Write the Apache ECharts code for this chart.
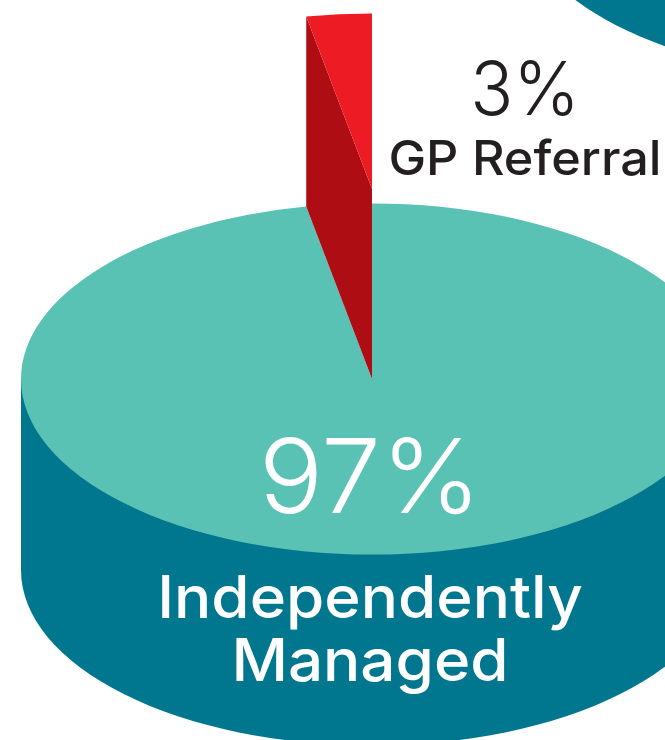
<!DOCTYPE html>
<html>
<head>
    <meta charset="utf-8">
    <title>referral share</title>
    <script src="https://cdn.jsdelivr.net/npm/echarts@6/dist/echarts.min.js"></script>
    <style>
        html, body { margin: 0; padding: 0; background: #fff; }
        #chart { width: 665px; height: 740px; }
    </style>
</head>
<body>
<div id="chart"></div>
<script>
    // data
    var categories = ['Independently Managed', 'GP Referral'];
    var shareValues = [97, 3];
    var topColors = ['#5AC2B5', '#ED1C24'];

    // disc geometry
    var cx = 372, cy = 379, rx = 351, ry = 175.5;
    var depth = 191;    // height of the cylinder wall
    var lift = 190;     // how far the small slice is pulled up
    var total = shareValues[0] + shareValues[1];
    var noon = -Math.PI / 2;

    function disc(start, end, y, color, z2) {
        return {
            type: 'sector',
            x: cx, y: y, scaleY: ry / rx,
            z2: z2,
            shape: { cx: 0, cy: 0, r0: 0, r: rx, startAngle: start, endAngle: end, clockwise: true },
            style: { fill: color }
        };
    }

    // slices run clockwise from 12 o'clock, the last one ends at 12 again
    function renderSlice(params, api) {
        var value = api.value(1);
        if (params.dataIndex === 0) {
            var sweep = value / total * Math.PI * 2;
            return {
                type: 'group',
                children: [
                    disc(0, Math.PI * 2, cy + depth, '#01778F', 1),
                    { type: 'rect', z2: 1, shape: { x: cx - rx, y: cy, width: rx * 2, height: depth }, style: { fill: '#01778F' } },
                    disc(noon, noon + sweep, cy, topColors[0], 2)
                ]
            };
        }
        // pulled out slice: inner wall first, then its top
        var a = noon - value / total * Math.PI * 2;
        var ex = cx + rx * Math.cos(a), ey = cy + ry * Math.sin(a);
        return {
            type: 'group',
            children: [
                { type: 'polygon', z2: 3, shape: { points: [[ex, ey - lift], [cx, cy - lift], [cx, cy], [ex, ey]] }, style: { fill: '#AD0D13' } },
                disc(a, noon, cy - lift, topColors[1], 4)
            ]
        };
    }

    // scale stretches the text a bit, the original face is wider than Inter
    function label(text, x, y, size, weight, color, scale) {
        return {
            type: 'text', x: x, y: y, z: 10, scaleX: scale,
            style: {
                text: text, fill: color, align: 'center', verticalAlign: 'middle',
                font: weight + ' ' + size + 'px Inter, "Noto Sans", sans-serif'
            }
        };
    }

    var chart = echarts.init(document.getElementById('chart'), null, { renderer: 'canvas' });
    chart.setOption({
        backgroundColor: '#ffffff',
        animation: false,
        graphic: [
            // the neighbouring pie, cut off by the top right corner
            { type: 'ellipse', z: 0, shape: { cx: 868, cy: -97, rx: rx, ry: ry }, style: { fill: '#01778F' } },
            label(shareValues[0] + '%', 370, 482, 103, 300, '#ffffff', 1.04),
            label('Independently', 370, 600, 59, 500, '#ffffff', 1.05),
            label('Managed', 370, 663, 59, 500, '#ffffff', 1.05),
            label(shareValues[1] + '%', 525, 93, 74, 300, '#231F20', 0.96),
            label(categories[1], 525, 161, 48, 500, '#231F20', 1.05)
        ],
        series: [{
            type: 'custom',
            coordinateSystem: 'none',
            clip: false,
            renderItem: renderSlice,
            data: categories.map(function (name, i) {
                return { name: name, value: [i, shareValues[i]] };
            })
        }]
    });
</script>
</body>
</html>
